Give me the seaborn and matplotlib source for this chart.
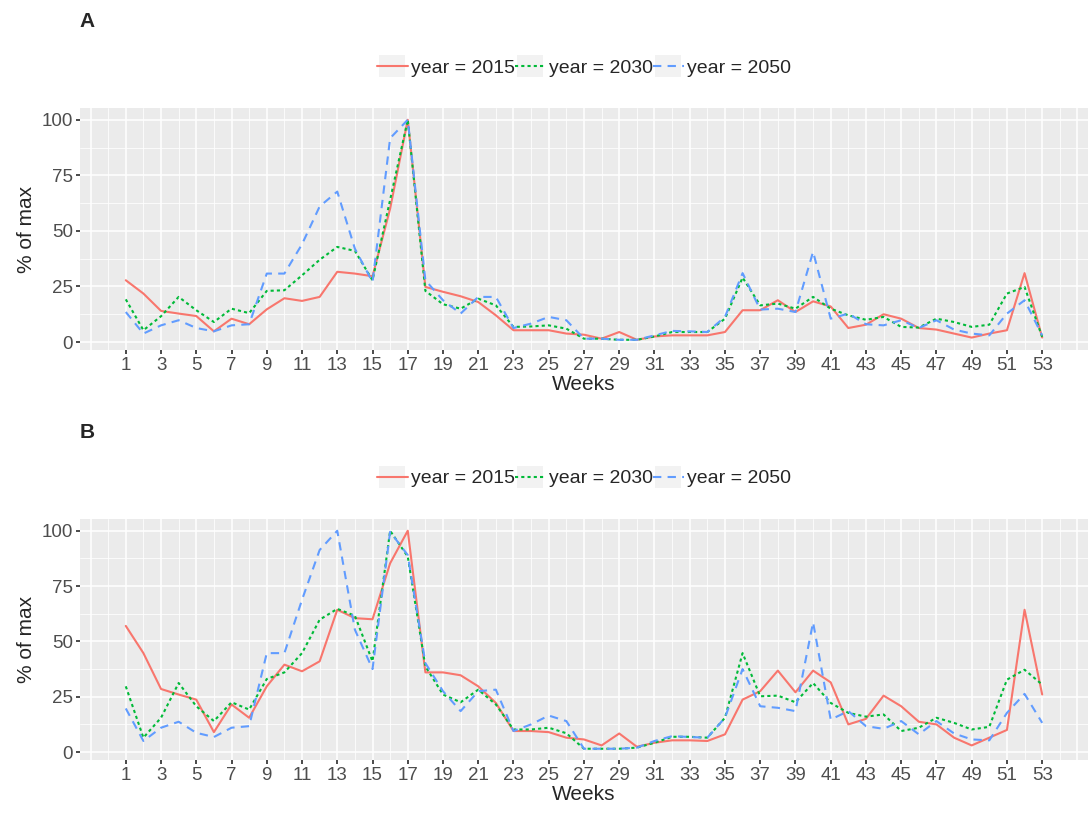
import numpy as np
import pandas as pd
import matplotlib
matplotlib.use("Agg")
import matplotlib.pyplot as plt
from matplotlib.patches import Rectangle
import seaborn as sns

# ---- data ----
weeks = list(range(1, 54))
years = [2015, 2030, 2050]

a_2015 = [27.8, 21.8, 14, 12.8, 11.7, 4.8, 10.5, 8, 14.7, 19.7, 18.5, 20.3,
          31.6, 30.8, 29.6, 60, 100, 24.8, 22.6, 20.6, 18, 12, 5.3, 5.3, 5.3, 3.8,
          3.3, 1.5, 4.5, 1, 2.5, 3, 3, 3, 4.5, 14.3, 14.3, 18.8, 13.5, 18.3, 16,
          6.3, 7.8, 12.5, 10.5, 6.3, 5.6, 3.8, 2, 3.8, 5.3, 31, 2]
a_2030 = [19.2, 5.3, 11.6, 20.3, 14.3, 9, 15, 13, 23, 23.3, 30, 37,
          42.8, 41, 27.8, 64, 100, 23, 17, 15, 19.5, 16.5, 6.8, 7, 7.5, 6,
          1.5, 1.5, 1, 1, 2.5, 4.5, 4.5, 4.5, 10.5, 29, 16.5, 17.3, 15, 20.3, 15,
          12, 10, 11.3, 6.8, 6.5, 10.5, 9, 6.8, 7.8, 21.8, 24.8, 2.3]
a_2050 = [13.5, 3.8, 7.5, 9.8, 6.3, 4.8, 7.5, 8, 30.8, 30.8, 44, 61,
          67.7, 42, 27, 91.7, 100, 27.8, 18.8, 12.8, 20.3, 20.3, 6.3, 8.3, 11.3, 9.8,
          1.5, 1.5, 1, 1, 3, 5, 4.8, 4.5, 11.3, 31, 14.6, 15, 13.5, 40.6, 10.5,
          12.8, 8, 7.5, 9.8, 6.3, 9.8, 5.6, 3.8, 3, 12.8, 18.8, 3]

b_2015 = [57, 44.7, 28.5, 26, 23.7, 9, 21.5, 15.5, 29.7, 39.5, 36.5, 41,
          64.3, 60.5, 60, 85.3, 100, 36, 36, 34.7, 29.7, 22.2, 9.5, 9.5, 9, 6.5,
          5.7, 3, 8.4, 2.4, 4.2, 5.3, 5.3, 5, 8, 23.7, 27.5, 36.8, 27, 36.8, 31.5,
          12.5, 15, 25.5, 20.7, 13.7, 12.5, 6.5, 3, 6.5, 10, 64.3, 26]
b_2030 = [29.7, 6.5, 15.5, 31.2, 20.7, 14, 22.5, 19.2, 33, 36, 44.7, 59.8,
          64.7, 61.6, 41, 100, 88.3, 38.7, 26, 22.5, 28.2, 21.5, 10.2, 10.2, 11, 8.5,
          1.5, 1.5, 1.5, 2, 4.2, 6.9, 6.9, 6.5, 15.5, 44.7, 25.2, 25.5, 22.5, 31.2, 22.2,
          17.7, 16, 17, 9.5, 11, 15.5, 13.2, 10.2, 11.4, 32.7, 37.2, 30.5]
b_2050 = [19.7, 5, 11, 13.7, 8.7, 6.8, 11, 11.7, 44.7, 44.7, 68.8, 91.3,
          100, 55.3, 37.5, 99.5, 89, 40.2, 27.5, 18.5, 27.5, 28.2, 9.5, 12.5, 16.5, 14,
          1.5, 1.5, 1.5, 2, 5, 7.2, 6.8, 6.5, 15.5, 37.5, 20.7, 20, 18.5, 58.6, 14.7,
          18.5, 11.7, 10.5, 14, 8, 14, 8.4, 5.7, 5.3, 17.7, 26.3, 13.2]

xtick_weeks = list(range(1, 54, 2))

# ggplot-ish look
sns.set_theme(style="darkgrid")
plt.rcParams["font.family"] = ["Liberation Sans", "DejaVu Sans"]

palette = {2015: "#F8766D", 2030: "#00BA38", 2050: "#619CFF"}
dashes = {2015: "", 2030: (1.5, 1.5), 2050: (4, 3)}


def long_frame(series):
    rows = []
    for yr, vals in zip(years, series):
        for w, v in zip(weeks, vals):
            rows.append({"week": w, "value": v, "year": yr})
    return pd.DataFrame(rows)


fig = plt.figure(figsize=(10.88, 8.14), dpi=100)

panels = [
    ("A", [a_2015, a_2030, a_2050], [0.0735, 0.570, 0.9265, 0.2973], 0.916, 0.973),
    ("B", [b_2015, b_2030, b_2050], [0.0735, 0.0663, 0.9265, 0.2961], 0.412, 0.469),
]

legends = []
for tag, series, rect, leg_y, tag_y in panels:
    ax = fig.add_axes(rect)
    ax.set_facecolor("#EBEBEB")
    df = long_frame(series)
    sns.lineplot(data=df, x="week", y="value", hue="year", style="year",
                 palette=palette, dashes=dashes, linewidth=1.5, ax=ax)

    ax.set_xlim(-1.6, 55.6)
    ax.set_ylim(-3.6, 105.3)
    ax.set_xticks(xtick_weeks)
    ax.set_xticks(range(0, 56, 2), minor=True)
    ax.set_yticks([0, 25, 50, 75, 100])
    ax.set_yticks([12.5, 37.5, 62.5, 87.5], minor=True)
    ax.grid(which="major", color="white", linewidth=1.1)
    ax.grid(which="minor", color="white", linewidth=0.55)
    ax.axvline(-1, color="white", linewidth=1.1, zorder=0.5)
    ax.axvline(55, color="white", linewidth=1.1, zorder=0.5)
    for s in ax.spines.values():
        s.set_visible(False)
    ax.tick_params(which="major", length=3, color="#333333", labelsize=13.5,
                   labelcolor="#4D4D4D", pad=2, bottom=True, left=True)
    ax.tick_params(which="minor", length=0)
    ax.set_xlabel("Weeks", fontsize=15, labelpad=1)
    ax.set_ylabel("% of max", fontsize=15, labelpad=4)

    handles, labels = ax.get_legend_handles_labels()
    ax.get_legend().remove()
    pairs = [(h, l) for h, l in zip(handles, labels) if l in [str(y) for y in years]]
    leg = fig.legend([p[0] for p in pairs], ["year = " + p[1] for p in pairs],
                     loc="center", bbox_to_anchor=(0.5365, leg_y), ncol=3,
                     frameon=False, fontsize=14, handlelength=1.6,
                     handletextpad=0.15, columnspacing=0.0)
    for line in leg.get_lines():
        line.set_linewidth(1.5)
    legends.append(leg)

    fig.text(0.0735, tag_y, tag, fontsize=15, fontweight="bold", va="center")

# grey key backgrounds as in ggplot legends
fig.canvas.draw()
renderer = fig.canvas.get_renderer()
inv = fig.transFigure.inverted()
for leg in legends:
    for line in leg.get_lines():
        bb = line.get_window_extent(renderer)
        cx = (bb.x0 + bb.x1) / 2
        cy = (bb.y0 + bb.y1) / 2
        w, h = 26, 22
        (x0, y0) = inv.transform((cx - w / 2, cy - h / 2))
        (x1, y1) = inv.transform((cx + w / 2, cy + h / 2))
        fig.patches.append(Rectangle((x0, y0), x1 - x0, y1 - y0,
                                     transform=fig.transFigure,
                                     facecolor="#F2F2F2", edgecolor="none",
                                     zorder=0))

fig.savefig("out.png", dpi=100)
